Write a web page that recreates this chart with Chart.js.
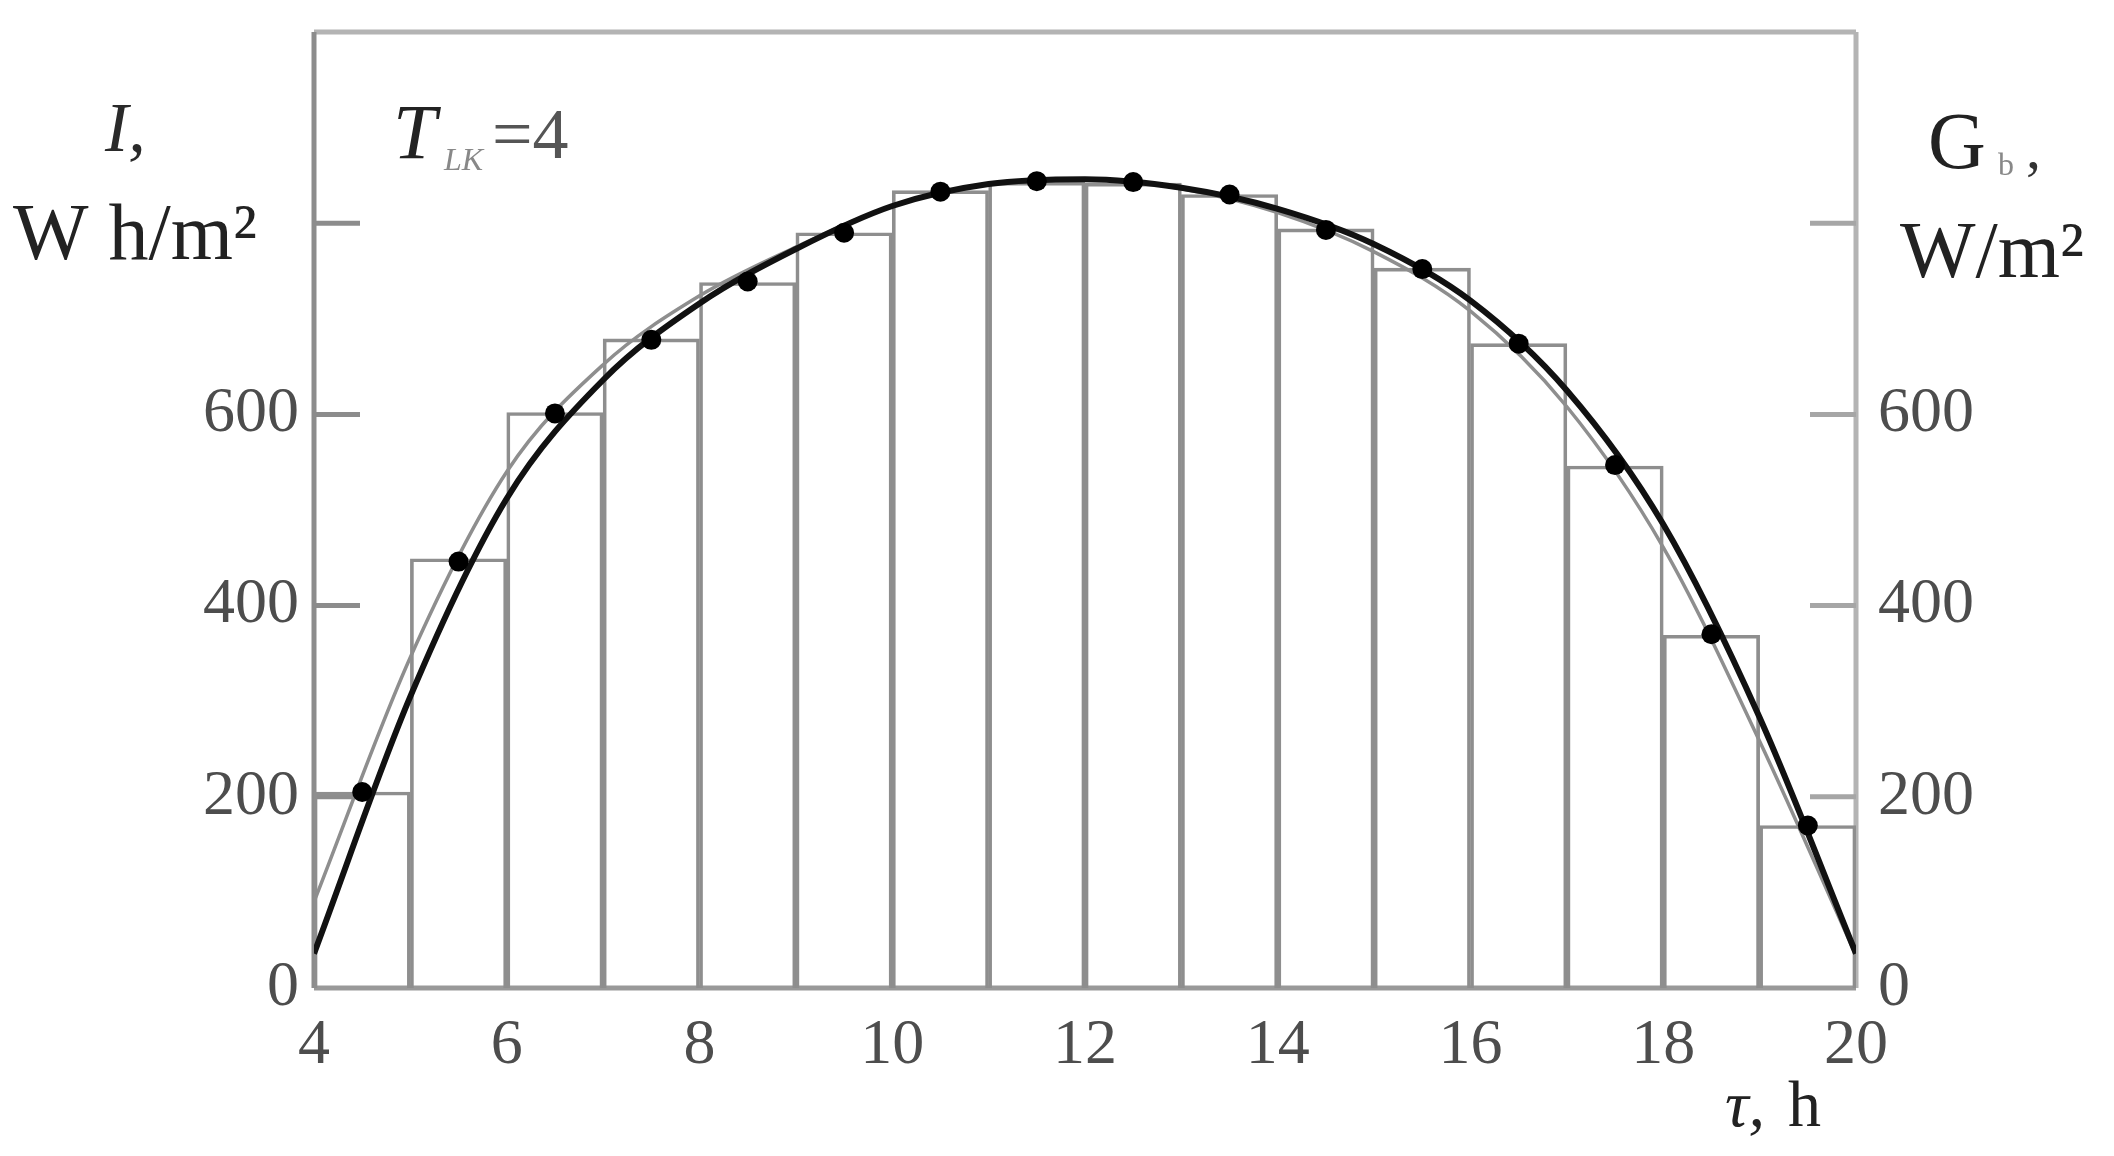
<!DOCTYPE html>
<html>
<head>
<meta charset="utf-8">
<script src="https://cdn.jsdelivr.net/npm/chart.js@4.4.1/dist/chart.umd.min.js"></script>
<style>
    html, body { margin: 0; padding: 0; background: #ffffff; }
    #wrap { width: 2114px; height: 1156px; }
</style>
</head>
<body>
<div id="wrap"><canvas id="sunChart" width="2114" height="1156"></canvas></div>
<script>
// hours of the day (x axis)
const curveHours = [4, 5, 6, 7, 8, 9, 10, 11, 12, 13, 14, 15, 16, 17, 18, 19, 20];
const barHours = [4.5, 5.5, 6.5, 7.5, 8.5, 9.5, 10.5, 11.5, 12.5, 13.5, 14.5, 15.5, 16.5, 17.5, 18.5, 19.5];

// G, W/m2 - black smooth curve
const curveG = [36, 305, 512, 636, 716, 773, 818, 841, 846, 837, 815, 778, 719, 625, 485, 283, 36];
// second (grey) curve
const curveGrey = [90, 346, 540, 652, 724, 775, 818, 841, 846, 836, 811, 770, 708, 608, 461, 258, 34];
// I, W h/m2 - hourly sums (histogram)
const barI = [205, 449, 602, 679, 738, 790, 834, 843, 842, 830, 794, 753, 674, 546, 369, 170];
// marked points on the curve
const dotG = [205, 446, 601, 678, 739, 790, 833, 844, 843, 830, 793, 752, 674, 547, 370, 170];

const yTickValues = [0, 200, 400, 600];

const SERIF = "'Liberation Serif', 'DejaVu Serif', serif";

// ✅ Frame and inward tick marks
const frameTicks = {
    id: "frameTicks",
    beforeDatasetsDraw(chart) {
        const { ctx, chartArea: a, scales } = chart;
        const line = (x1, y1, x2, y2) => {
            ctx.beginPath();
            ctx.moveTo(x1, y1);
            ctx.lineTo(x2, y2);
            ctx.stroke();
        };
        ctx.save();
        ctx.lineWidth = 5;
        ctx.strokeStyle = "#b4b4b4";
        line(a.left, a.top, a.right, a.top);
        line(a.right, a.top, a.right, a.bottom);
        ctx.strokeStyle = "#8c8c8c";
        line(a.left, a.top, a.left, a.bottom);
        ctx.strokeStyle = "#999999";
        line(a.left, a.bottom, a.right, a.bottom);

        scales.y.ticks.forEach(t => {
            if (t.value <= 0 || t.value >= 1000) return;
            const py = scales.y.getPixelForValue(t.value);
            ctx.strokeStyle = "#8c8c8c";
            line(a.left, py, a.left + 46, py);
            ctx.strokeStyle = "#a6a6a6";
            line(a.right - 46, py, a.right, py);
        });
        ctx.restore();
    }
};

// ✅ Axis titles and annotation
const axisTexts = {
    id: "axisTexts",
    afterDraw(chart) {
        const ctx = chart.ctx;
        const put = (str, x, y, font, color) => {
            ctx.font = font;
            ctx.fillStyle = color;
            ctx.textAlign = "left";
            ctx.textBaseline = "alphabetic";
            ctx.fillText(str, x, y);
        };
        ctx.save();
        put("I,", 105, 151, `italic 70px ${SERIF}`, "#2a2a2a");
        put("W h/m²", 13, 259, `80px ${SERIF}`, "#222222");

        put("T", 393, 158, `italic 78px ${SERIF}`, "#222222");
        put("LK", 444, 170, `italic 32px ${SERIF}`, "#888888");
        put("=4", 492, 158, `72px ${SERIF}`, "#555555");

        put("G", 1928, 168, `80px ${SERIF}`, "#222222");
        put("b", 1998, 175, `32px ${SERIF}`, "#888888");
        put(",", 2026, 168, `60px ${SERIF}`, "#333333");
        put("W/m²", 1900, 277, `80px ${SERIF}`, "#222222");

        put("τ,", 1725, 1126, `italic 66px ${SERIF}`, "#222222");
        put("h", 1788, 1126, `66px ${SERIF}`, "#222222");
        ctx.restore();
    }
};

function initializeChart() {
    const ctx = document.getElementById("sunChart").getContext("2d");

    const tickFont = { family: SERIF, size: 64 };

    new Chart(ctx, {
        type: "bar",
        data: {
            datasets: [
                {
                    type: "scatter",
                    label: "points",
                    data: barHours.map((x, i) => ({ x, y: dotG[i] })),
                    pointRadius: 10,
                    pointBackgroundColor: "#000000",
                    pointBorderWidth: 0,
                    order: 0
                },
                {
                    type: "line",
                    label: "G",
                    data: curveHours.map((x, i) => ({ x, y: curveG[i] })),
                    borderColor: "#111111",
                    borderWidth: 6,
                    pointRadius: 0,
                    cubicInterpolationMode: "monotone",
                    fill: false,
                    order: 1
                },
                {
                    type: "line",
                    label: "G grey",
                    data: curveHours.map((x, i) => ({ x, y: curveGrey[i] })),
                    borderColor: "#8e8e8e",
                    borderWidth: 3.5,
                    pointRadius: 0,
                    cubicInterpolationMode: "monotone",
                    fill: false,
                    order: 2
                },
                {
                    type: "bar",
                    label: "I",
                    data: barHours.map((x, i) => ({ x, y: barI[i] })),
                    backgroundColor: "rgba(0,0,0,0)",
                    borderColor: "#8e8e8e",
                    borderWidth: 3,
                    borderSkipped: "bottom",
                    barPercentage: 1,
                    categoryPercentage: 1,
                    order: 3
                }
            ]
        },
        options: {
            responsive: false,
            animation: false,
            devicePixelRatio: 1,
            layout: { padding: { top: 32, left: 0, right: 0, bottom: 0 } },
            plugins: {
                legend: { display: false },
                tooltip: { enabled: false }
            },
            scales: {
                x: {
                    type: "linear",
                    min: 4,
                    max: 20,
                    offset: false,
                    grid: { display: false, drawTicks: false },
                    border: { display: false },
                    ticks: {
                        stepSize: 2,
                        padding: 20,
                        maxRotation: 0,
                        color: "#4d4d4d",
                        font: tickFont
                    },
                    afterFit: s => { s.height = 168; s.paddingLeft = 0; s.paddingRight = 0; }
                },
                y: {
                    position: "left",
                    min: 0,
                    max: 1000,
                    grid: { display: false, drawTicks: false },
                    border: { display: false },
                    ticks: {
                        stepSize: 200,
                        padding: 15,
                        color: "#4d4d4d",
                        font: tickFont,
                        callback: v => (yTickValues.includes(v) ? v : "")
                    },
                    afterFit: s => { s.width = 314; s.paddingTop = 0; s.paddingBottom = 0; }
                },
                y2: {
                    position: "right",
                    min: 0,
                    max: 1000,
                    grid: { display: false, drawTicks: false },
                    border: { display: false },
                    ticks: {
                        stepSize: 200,
                        padding: 22,
                        color: "#4d4d4d",
                        font: tickFont,
                        callback: v => (yTickValues.includes(v) ? v : "")
                    },
                    afterFit: s => { s.width = 258; s.paddingTop = 0; s.paddingBottom = 0; }
                }
            }
        },
        plugins: [frameTicks, axisTexts]
    });
}

initializeChart();
</script>
</body>
</html>
